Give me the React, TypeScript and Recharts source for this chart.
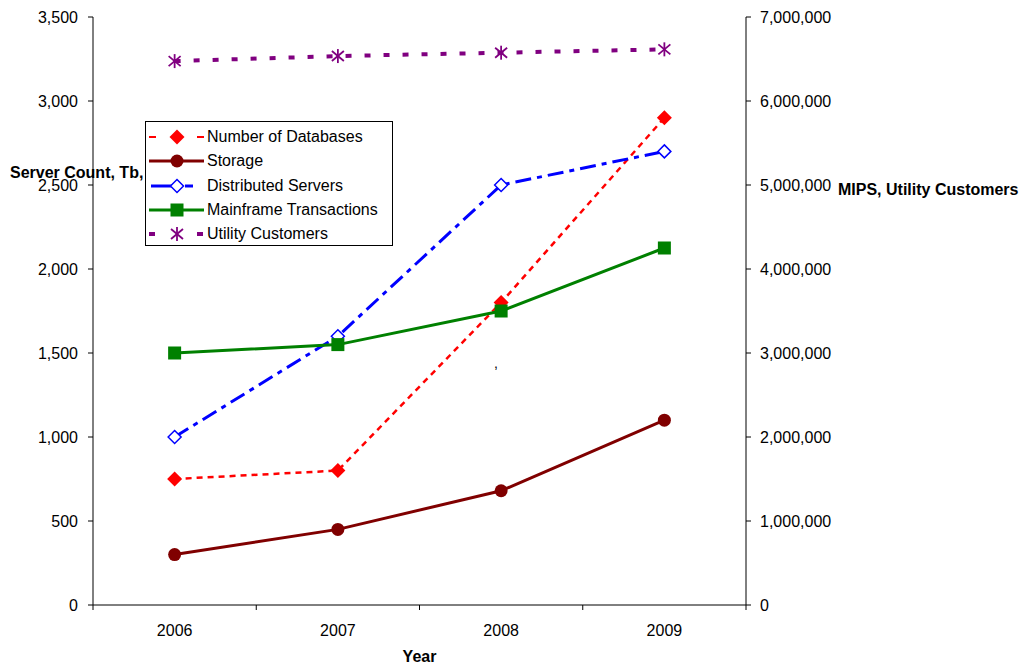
import React from 'react';
import { LineChart, Line, XAxis, YAxis } from 'recharts';

const years = ['2006', '2007', '2008', '2009'];
const numberOfDatabases = [750, 800, 1800, 2900];
const storage = [300, 450, 680, 1100];
const distributedServers = [1000, 1600, 2500, 2700];
const mainframeTransactions = [3000000, 3100000, 3500000, 4250000];
const utilityCustomers = [6475000, 6535000, 6575000, 6615000];

const leftTicks = [0, 500, 1000, 1500, 2000, 2500, 3000, 3500];
const rightTicks = [0, 1000000, 2000000, 3000000, 4000000, 5000000, 6000000, 7000000];
const xTicks = [0, 0.5, 1, 1.5, 2, 2.5, 3, 3.5, 4];

const leftTitle = 'Server Count, Tb,';
const rightTitle = 'MIPS, Utility Customers';
const xTitle = 'Year';

const data = years.map((y, i) => ({
  pos: i + 0.5,
  year: y,
  databases: numberOfDatabases[i],
  storage: storage[i],
  distributed: distributedServers[i],
  mainframe: mainframeTransactions[i],
  utility: utilityCustomers[i],
}));

const FONT = '"Liberation Sans", Arial, sans-serif';
const fmt = (v: number) => v.toLocaleString('en-US');

const RED = '#FF0000';
const MAROON = '#800000';
const BLUE = '#0000FF';
const GREEN = '#008000';
const PURPLE = '#800080';

const DiamondFilled = ({ cx, cy, color }: any) => (
  <polygon points={`${cx},${cy - 7.5} ${cx + 7.5},${cy} ${cx},${cy + 7.5} ${cx - 7.5},${cy}`} fill={color} stroke="none" />
);
const DiamondHollow = ({ cx, cy, color }: any) => (
  <polygon points={`${cx},${cy - 6.5} ${cx + 6.5},${cy} ${cx},${cy + 6.5} ${cx - 6.5},${cy}`} fill="#fff" stroke={color} strokeWidth={1.5} />
);
const CircleDot = ({ cx, cy, color }: any) => <circle cx={cx} cy={cy} r={6.5} fill={color} stroke="none" />;
const SquareDot = ({ cx, cy, color }: any) => <rect x={cx - 6.5} y={cy - 6.5} width={13} height={13} fill={color} stroke="none" />;
const StarDot = ({ cx, cy, color }: any) => (
  <g stroke={color} strokeWidth={1.8} fill="none">
    <line x1={cx} y1={cy - 7} x2={cx} y2={cy + 7} />
    <line x1={cx - 6} y1={cy - 5} x2={cx + 6} y2={cy + 5} />
    <line x1={cx - 6} y1={cy + 5} x2={cx + 6} y2={cy - 5} />
  </g>
);

type SeriesCfg = {
  key: string;
  name: string;
  axis: 'left' | 'right';
  color: string;
  width: number;
  dash?: string;
  Marker: any;
};

const series: SeriesCfg[] = [
  { key: 'databases', name: 'Number of Databases', axis: 'left', color: RED, width: 2.5, dash: '6 5', Marker: DiamondFilled },
  { key: 'storage', name: 'Storage', axis: 'left', color: MAROON, width: 3, Marker: CircleDot },
  { key: 'distributed', name: 'Distributed Servers', axis: 'left', color: BLUE, width: 3, dash: '16 6 5 6', Marker: DiamondHollow },
  { key: 'mainframe', name: 'Mainframe Transactions', axis: 'right', color: GREEN, width: 3, Marker: SquareDot },
  { key: 'utility', name: 'Utility Customers', axis: 'right', color: PURPLE, width: 4, dash: '6 13', Marker: StarDot },
];

const XTick = (props: any) => {
  const { x, y, payload } = props;
  const axisY = y - 5;
  const v = payload.value;
  if (Math.abs(v - Math.round(v)) < 1e-9) {
    return <line x1={x} x2={x} y1={axisY} y2={axisY + 5} stroke="#000" strokeWidth={1} />;
  }
  const idx = Math.floor(v);
  return (
    <text x={x} y={axisY + 31} textAnchor="middle" fontSize={16} fill="#000" fontFamily={FONT}>
      {years[idx]}
    </text>
  );
};

const LegendSymbol = ({ s }: { s: SeriesCfg }) => {
  const M = s.Marker;
  const cy = 12;
  let lines: any = null;
  if (s.key === 'databases') {
    lines = (
      <g stroke={s.color} strokeWidth={2}>
        <line x1={3} x2={10} y1={cy} y2={cy} />
        <line x1={51} x2={58} y1={cy} y2={cy} />
      </g>
    );
  } else if (s.key === 'utility') {
    lines = (
      <g stroke={s.color} strokeWidth={4}>
        <line x1={3} x2={9} y1={cy} y2={cy} />
        <line x1={51} x2={57} y1={cy} y2={cy} />
      </g>
    );
  } else if (s.key === 'distributed') {
    lines = (
      <g stroke={s.color} strokeWidth={3}>
        <line x1={5} x2={28} y1={cy} y2={cy} />
        <line x1={39} x2={47} y1={cy} y2={cy} />
      </g>
    );
  } else {
    lines = <line x1={3} x2={58} y1={cy} y2={cy} stroke={s.color} strokeWidth={3} />;
  }
  return (
    <svg width={60} height={24} style={{ display: 'block', flex: '0 0 auto' }}>
      {lines}
      <M cx={31} cy={cy} color={s.color} />
    </svg>
  );
};

const LegendBox = () => (
  <div
    style={{
      position: 'absolute',
      left: 145,
      top: 121,
      width: 248,
      height: 125,
      boxSizing: 'border-box',
      border: '1px solid #000',
      background: '#fff',
      paddingTop: 3,
      fontFamily: FONT,
      fontSize: 16,
      color: '#000',
    }}
  >
    {series.map((s) => (
      <div key={s.key} style={{ display: 'flex', alignItems: 'center', height: 24.3 }}>
        <LegendSymbol s={s} />
        <span style={{ marginLeft: 1, whiteSpace: 'nowrap', lineHeight: '24px' }}>{s.name}</span>
      </div>
    ))}
  </div>
);

export default function App() {
  return (
    <div style={{ position: 'absolute', left: 0, top: 0, width: 1026, height: 667, background: '#fff', fontFamily: FONT }}>
      <LineChart
        width={1026}
        height={667}
        data={data}
        margin={{ top: 17, right: 0, bottom: 0, left: 0 }}
        style={{ fontFamily: FONT }}
      >
        <XAxis
          xAxisId="x"
          type="number"
          dataKey="pos"
          domain={[0, 4]}
          ticks={xTicks}
          interval={0}
          tickLine={false}
          tickSize={5}
          tickMargin={0}
          tick={XTick}
          axisLine={{ stroke: '#000', strokeWidth: 1 }}
          height={62}
          allowDecimals
        />
        <YAxis
          yAxisId="left"
          orientation="left"
          domain={[0, 3500]}
          ticks={leftTicks}
          interval={0}
          width={93}
          tickSize={5}
          tickMargin={10}
          tickFormatter={fmt}
          tick={{ fill: '#000', fontSize: 16, fontFamily: FONT }}
          tickLine={{ stroke: '#000' }}
          axisLine={{ stroke: '#000', strokeWidth: 1 }}
        />
        <YAxis
          yAxisId="right"
          orientation="right"
          domain={[0, 7000000]}
          ticks={rightTicks}
          interval={0}
          width={280}
          tickSize={5}
          tickMargin={9}
          tickFormatter={fmt}
          tick={{ fill: '#000', fontSize: 16, fontFamily: FONT }}
          tickLine={{ stroke: '#000' }}
          axisLine={{ stroke: '#000', strokeWidth: 1 }}
        />
        {series.map((s) => {
          const M = s.Marker;
          return (
            <Line
              key={s.key}
              xAxisId="x"
              yAxisId={s.axis}
              type="linear"
              dataKey={s.key}
              name={s.name}
              stroke={s.color}
              strokeWidth={s.width}
              strokeDasharray={s.dash}
              dot={(p: any) => <M key={`${s.key}-${p.index}`} cx={p.cx} cy={p.cy} color={s.color} />}
              activeDot={false}
              isAnimationActive={false}
            />
          );
        })}
      </LineChart>
      <svg width={1026} height={667} style={{ position: 'absolute', left: 0, top: 0, pointerEvents: 'none' }}>
        <text x={10} y={178} fontSize={16} fontWeight="bold" fill="#000" fontFamily={FONT}>
          {leftTitle}
        </text>
        <text x={838} y={195} fontSize={16} fontWeight="bold" fill="#000" fontFamily={FONT}>
          {rightTitle}
        </text>
        <text x={419.5} y={662} fontSize={16} fontWeight="bold" fill="#000" textAnchor="middle" fontFamily={FONT}>
          {xTitle}
        </text>
        <text x={494} y={368} fontSize={14} fill="#000" fontFamily={FONT}>
          ,
        </text>
      </svg>
      <LegendBox />
    </div>
  );
}
